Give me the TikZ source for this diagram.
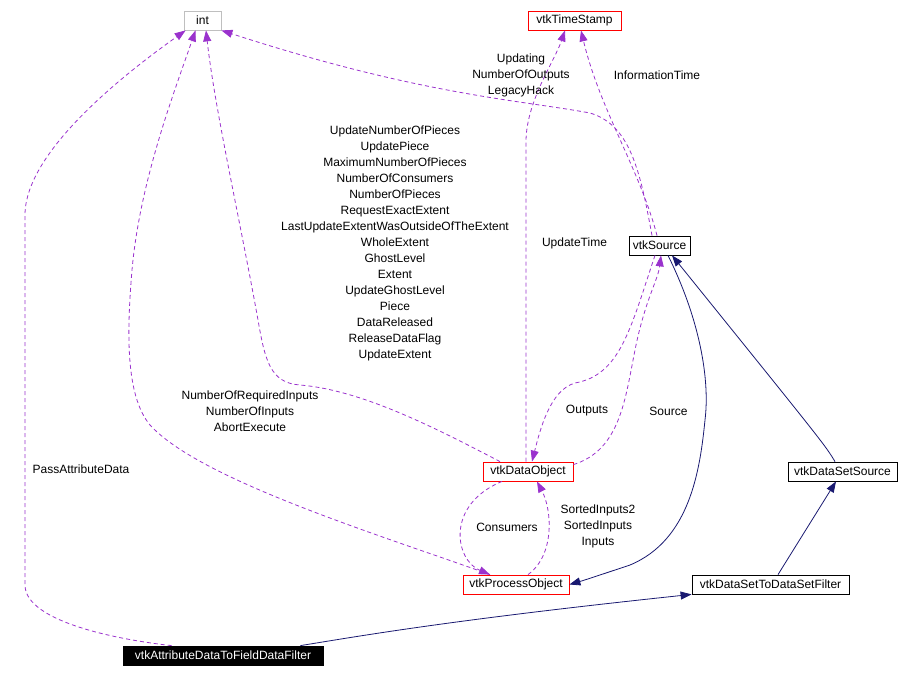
\documentclass[tikz,border=0pt]{standalone}
\usepackage{fontspec}
\setmainfont{Liberation Sans}
\usetikzlibrary{arrows.meta, positioning, calc}
\definecolor{dotpurple}{RGB}{154, 50, 205}
\definecolor{dotnavy}{RGB}{25, 25, 112}
\definecolor{dotred}{RGB}{255, 0, 0}
\definecolor{dotgray}{RGB}{191, 191, 191}

\begin{document}
\begin{tikzpicture}[
    x=1pt, y=-1pt,
    classnode/.style={
        rectangle,
        draw=black,
        minimum height=19pt,
        inner sep=0pt,
        line width=0.8pt,
        font=\fontsize{12}{16}\selectfont
    },
    rednode/.style={classnode, draw=dotred},
    graynode/.style={classnode, draw=dotgray},
    mainnode/.style={classnode, fill=black, text=white},
    lbl/.style={align=center, inner sep=0pt, font=\fontsize{12}{16}\selectfont},
    usearr/.style={-{Triangle[length=11pt, width=8pt]}, dotpurple, line width=0.8pt, dash pattern=on 4pt off 3pt},
    inharr/.style={-{Triangle[length=11pt, width=8pt]}, dotnavy, line width=0.8pt}
]
    \useasboundingbox (0,0) rectangle (900,677);

    % Classes
    \node[graynode, minimum width=37pt] (int) at (202.5, 20.5) {int};
    \node[rednode, minimum width=93pt] (tstamp) at (574.5, 20.5) {vtkTimeStamp};
    \node[classnode, minimum width=61pt] (source) at (659.5, 245.5) {vtkSource};
    \node[rednode, minimum width=90pt] (dataobj) at (528, 471.5) {vtkDataObject};
    \node[classnode, minimum width=109pt] (dss) at (842.5, 471.5) {vtkDataSetSource};
    \node[rednode, minimum width=106pt] (procobj) at (516, 584.5) {vtkProcessObject};
    \node[classnode, minimum width=157pt] (dsf) at (770.5, 584.5) {vtkDataSetToDataSetFilter};
    \node[mainnode, minimum width=200pt] (adtf) at (223, 655.5) {vtkAttributeDataToFieldDataFilter};

    % Usage arrows (dashed)
    \draw[usearr] ($(adtf.north west)+(49,0)$) .. controls (120,640) and (25,622) .. (25,585)
        -- (25,215) .. controls (25,150) and (130,70) .. ($(int.south west)+(2,0)$);
    \draw[usearr] ($(procobj.north)+(-26,0)$) .. controls (380,535) and (200,480) .. (150,425)
        .. controls (125,395) and (127,330) .. (132,270)
        .. controls (140,180) and (175,90) .. ($(int.south)+(-7,0)$);
    \draw[usearr] ($(dataobj.north)+(-28,0)$) .. controls (430,425) and (360,390) .. (300,385)
        .. controls (270,383) and (265,360) .. (258,320)
        .. controls (240,220) and (215,110) .. ($(int.south)+(3.5,0)$);
    \draw[usearr] ($(source.north)+(-7.5,0)$) .. controls (640,170) and (630,125) .. (590,113)
        .. controls (520,100) and (420,95) .. (int.south east);
    \draw[usearr] ($(source.north)+(-2.5,0)$) .. controls (640,170) and (600,110) .. ($(tstamp.south)+(6.5,0)$);
    \draw[usearr] ($(dataobj.north)+(-2,0)$) -- (526,140) .. controls (527,100) and (555,60) .. ($(tstamp.south)+(-9.5,0)$);
    \draw[usearr] ($(source.south)+(-4.5,0)$) .. controls (630,330) and (620,375) .. (575,383)
        .. controls (550,390) and (540,430) .. ($(dataobj.north)+(4,0)$);
    \draw[usearr] ($(dataobj.north east)+(0,3)$) .. controls (620,450) and (625,400) .. (635,350)
        .. controls (645,300) and (658,280) .. ($(source.south)+(1.5,0)$);
    \draw[usearr] ($(dataobj.south)+(-26,0)$) .. controls (445,505) and (455,560) .. ($(procobj.north)+(-26,0)$);
    \draw[usearr] ($(procobj.north)+(12,0)$) .. controls (555,555) and (552,510) .. ($(dataobj.south)+(9,0)$);

    % Inheritance arrows
    \draw[inharr] ($(source.south)+(8.5,0)$) .. controls (700,320) and (710,380) .. (705,420)
        .. controls (700,470) and (690,540) .. (630,565)
        .. controls (600,575) and (585,580) .. (procobj.east);
    \draw[inharr] ($(dss.north)+(-7.5,0)$) .. controls (825,445) .. ($(source.south)+(12.5,0)$);
    \draw[inharr] ($(dsf.north)+(7.5,0)$) -- ($(dss.south)+(-6.5,0)$);
    \draw[inharr] ($(adtf.north east)+(-23,0)$) .. controls (360,636) and (450,620) .. (dsf.south west);

    % Labels
    \node[lbl] (l-pass) at (81, 469) {PassAttributeData};
    \node[lbl] (l-inputs) at (250, 411) {NumberOfRequiredInputs\\NumberOfInputs\\AbortExecute};
    \node[lbl] (l-pieces) at (395, 243) {UpdateNumberOfPieces\\UpdatePiece\\MaximumNumberOfPieces\\NumberOfConsumers\\NumberOfPieces\\RequestExactExtent\\LastUpdateExtentWasOutsideOfTheExtent\\WholeExtent\\GhostLevel\\Extent\\UpdateGhostLevel\\Piece\\DataReleased\\ReleaseDataFlag\\UpdateExtent};
    \node[lbl] (l-updating) at (521, 75) {Updating\\NumberOfOutputs\\LegacyHack};
    \node[lbl] (l-info) at (657, 75) {InformationTime};
    \node[lbl] (l-utime) at (574.5, 243) {UpdateTime};
    \node[lbl] (l-outputs) at (587, 411) {Outputs};
    \node[lbl] (l-source) at (668.5, 411) {Source};
    \node[lbl] (l-consumers) at (507, 527) {Consumers};
    \node[lbl] (l-sorted) at (598, 526) {SortedInputs2\\SortedInputs\\Inputs};
\end{tikzpicture}
\end{document}
